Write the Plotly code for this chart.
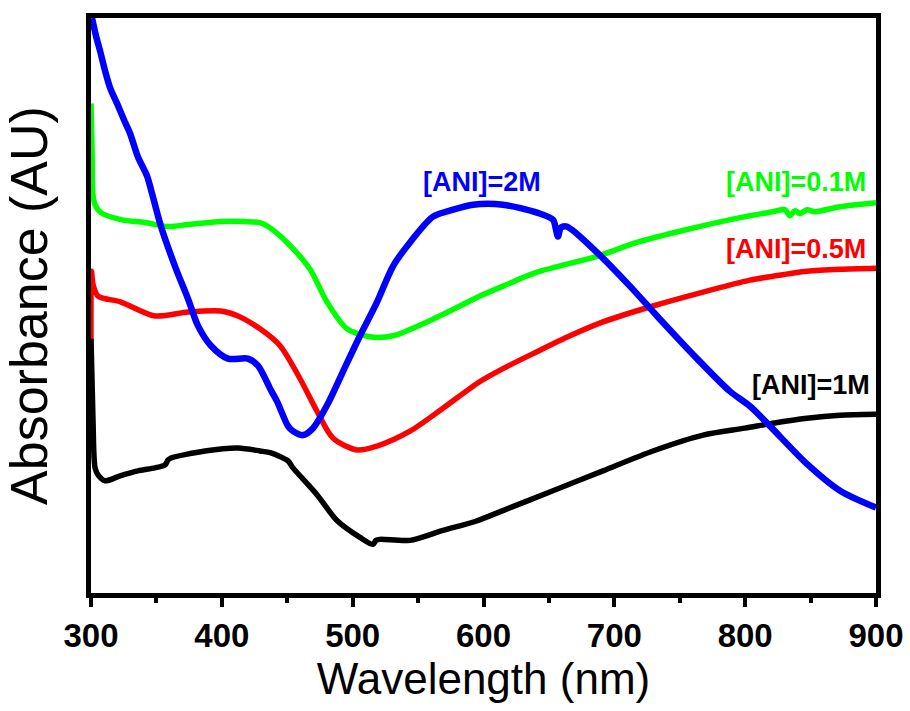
import plotly.graph_objects as go

# ---- data (wavelength in nm, absorbance in arbitrary units) ----
wl_2M = [300.8, 303.8, 306.9, 310.7, 314.5, 319.9, 326.0, 329.8, 335.9, 342.8, 345.9, 353.5,
         364.2, 374.2, 381.8, 391.7, 404.7, 420.0, 427.6, 437.6, 442.2, 450.6, 454.4, 462.0,
         469.7, 480.4, 492.6, 505.6, 518.6, 530.8, 543.8, 561.4, 576.7, 592.0, 614.9, 640.9,
         653.1, 655.4, 656.9, 659.2, 663.8, 686.7, 711.9, 732.6, 763.2, 788.4, 803.7, 819.0,
         847.2, 872.5, 900.0]
abs_2M = [5.79, 5.61, 5.46, 5.26, 5.09, 4.93, 4.74, 4.63, 4.39, 4.20, 4.06, 3.69,
          3.29, 2.96, 2.69, 2.49, 2.36, 2.36, 2.29, 2.04, 1.93, 1.68, 1.63, 1.59,
          1.66, 1.89, 2.23, 2.59, 2.93, 3.29, 3.53, 3.79, 3.86, 3.91, 3.91, 3.83,
          3.76, 3.66, 3.59, 3.68, 3.69, 3.43, 3.09, 2.79, 2.36, 2.03, 1.88, 1.68,
          1.30, 1.03, 0.86]

wl_01M = [300.0, 300.8, 301.5, 303.1, 307.6, 322.9, 341.3, 358.9, 374.2, 399.4, 417.7, 429.2,
          435.3, 449.8, 467.4, 480.4, 495.7, 513.2, 530.8, 556.8, 582.0, 597.3, 614.9, 640.9,
          686.7, 717.3, 755.5, 796.0, 821.3, 830.4, 834.2, 838.1, 841.9, 847.2, 853.3, 872.5,
          900.0]
abs_01M = [4.93, 4.46, 4.01, 3.91, 3.83, 3.76, 3.73, 3.69, 3.71, 3.74, 3.74, 3.73,
           3.69, 3.53, 3.26, 2.93, 2.66, 2.58, 2.59, 2.73, 2.89, 2.99, 3.09, 3.23,
           3.39, 3.53, 3.66, 3.78, 3.84, 3.86, 3.80, 3.85, 3.82, 3.86, 3.84, 3.89,
           3.93]

wl_05M = [300.0, 300.4, 301.5, 305.4, 322.9, 348.9, 374.2, 399.4, 412.4, 429.2, 444.5, 459.7,
          472.7, 484.9, 503.3, 518.6, 543.8, 569.0, 597.3, 614.9, 640.9, 666.1, 691.3, 729.5,
          767.8, 803.7, 821.3, 847.2, 872.5, 900.0]
abs_05M = [2.53, 3.24, 3.11, 2.99, 2.93, 2.79, 2.83, 2.84, 2.79, 2.66, 2.49, 2.16,
           1.83, 1.56, 1.44, 1.48, 1.63, 1.86, 2.13, 2.26, 2.43, 2.59, 2.73, 2.89,
           3.03, 3.15, 3.19, 3.24, 3.26, 3.27]

wl_1M = [300.0, 301.5, 303.1, 305.4, 310.7, 322.2, 335.9, 348.9, 356.6, 358.9, 361.2, 387.1,
         412.4, 429.2, 437.6, 450.6, 454.4, 472.7, 488.0, 505.6, 515.5, 517.8, 520.9, 543.8,
         569.0, 593.5, 614.9, 653.1, 691.3, 729.5, 767.8, 799.8, 821.3, 847.2, 872.5, 900.0]
abs_1M = [2.56, 1.76, 1.26, 1.19, 1.13, 1.18, 1.23, 1.26, 1.29, 1.34, 1.36, 1.43,
          1.46, 1.43, 1.41, 1.33, 1.26, 0.99, 0.73, 0.56, 0.49, 0.53, 0.54, 0.53,
          0.63, 0.72, 0.83, 1.03, 1.23, 1.43, 1.59, 1.66, 1.71, 1.76, 1.79, 1.80]

series_names = ["[ANI]=0.1M", "[ANI]=0.5M", "[ANI]=1M", "[ANI]=2M"]
series_colors = ["#00FF00", "#FF0000", "#000000", "#0000FF"]

x_tick_vals = [300, 400, 500, 600, 700, 800, 900]
x_tick_text = ["300", "400", "500", "600", "700", "800", "900"]

FONT = "Liberation Sans, Arial, sans-serif"

fig = go.Figure()
data = [(wl_01M, abs_01M), (wl_05M, abs_05M), (wl_1M, abs_1M), (wl_2M, abs_2M)]
widths = [5.5, 5.5, 5.5, 6.5]
for (xs, ys), name, col, w in zip(data, series_names, series_colors, widths):
    fig.add_trace(go.Scatter(x=xs, y=ys, mode="lines", name=name,
                             line=dict(color=col, width=w, shape="spline", smoothing=0.8),
                             showlegend=False))

# labels
label_pos = {
    "[ANI]=2M": dict(x=598.8, y=4.14, xanchor="center"),
    "[ANI]=0.1M": dict(x=894.0, y=4.14, xanchor="right"),
    "[ANI]=0.5M": dict(x=894.0, y=3.46, xanchor="right"),
    "[ANI]=1M": dict(x=897.0, y=2.09, xanchor="right"),
}
for name, col in zip(series_names, series_colors):
    p = label_pos[name]
    fig.add_annotation(x=p["x"], y=p["y"], xref="x", yref="y", text="<b>%s</b>" % name,
                       showarrow=False, xanchor=p["xanchor"], yanchor="middle",
                       font=dict(family=FONT, size=27, color=col))

fig.update_layout(
    width=910, height=711,
    margin=dict(l=91, r=34, t=18, b=118),
    paper_bgcolor="white", plot_bgcolor="white",
    font=dict(family=FONT, color="black"),
)
fig.update_xaxes(
    range=[300, 900], showgrid=False, zeroline=False, automargin=False,
    ticklabeloverflow="allow",
    showline=True, linecolor="black", linewidth=5, mirror=True,
    ticks="outside", ticklen=9, tickwidth=4, tickcolor="black",
    tickvals=x_tick_vals, ticktext=x_tick_text,
    tickfont=dict(family=FONT, size=33, color="black", weight="bold"),
    minor=dict(ticks="outside", ticklen=5, tickwidth=4, tickcolor="black", dtick=50, tick0=300),
    title=dict(text="Wavelength (nm)", font=dict(family=FONT, size=44, color="black"), standoff=4),
)
fig.update_yaxes(
    range=[0, 5.79], showgrid=False, zeroline=False, automargin=False,
    showline=True, linecolor="black", linewidth=5, mirror=True,
    ticks="", showticklabels=False,
    title=dict(text="Absorbance (AU)", font=dict(family=FONT, size=52, color="black"), standoff=24),
)

fig.write_html("out.html")
